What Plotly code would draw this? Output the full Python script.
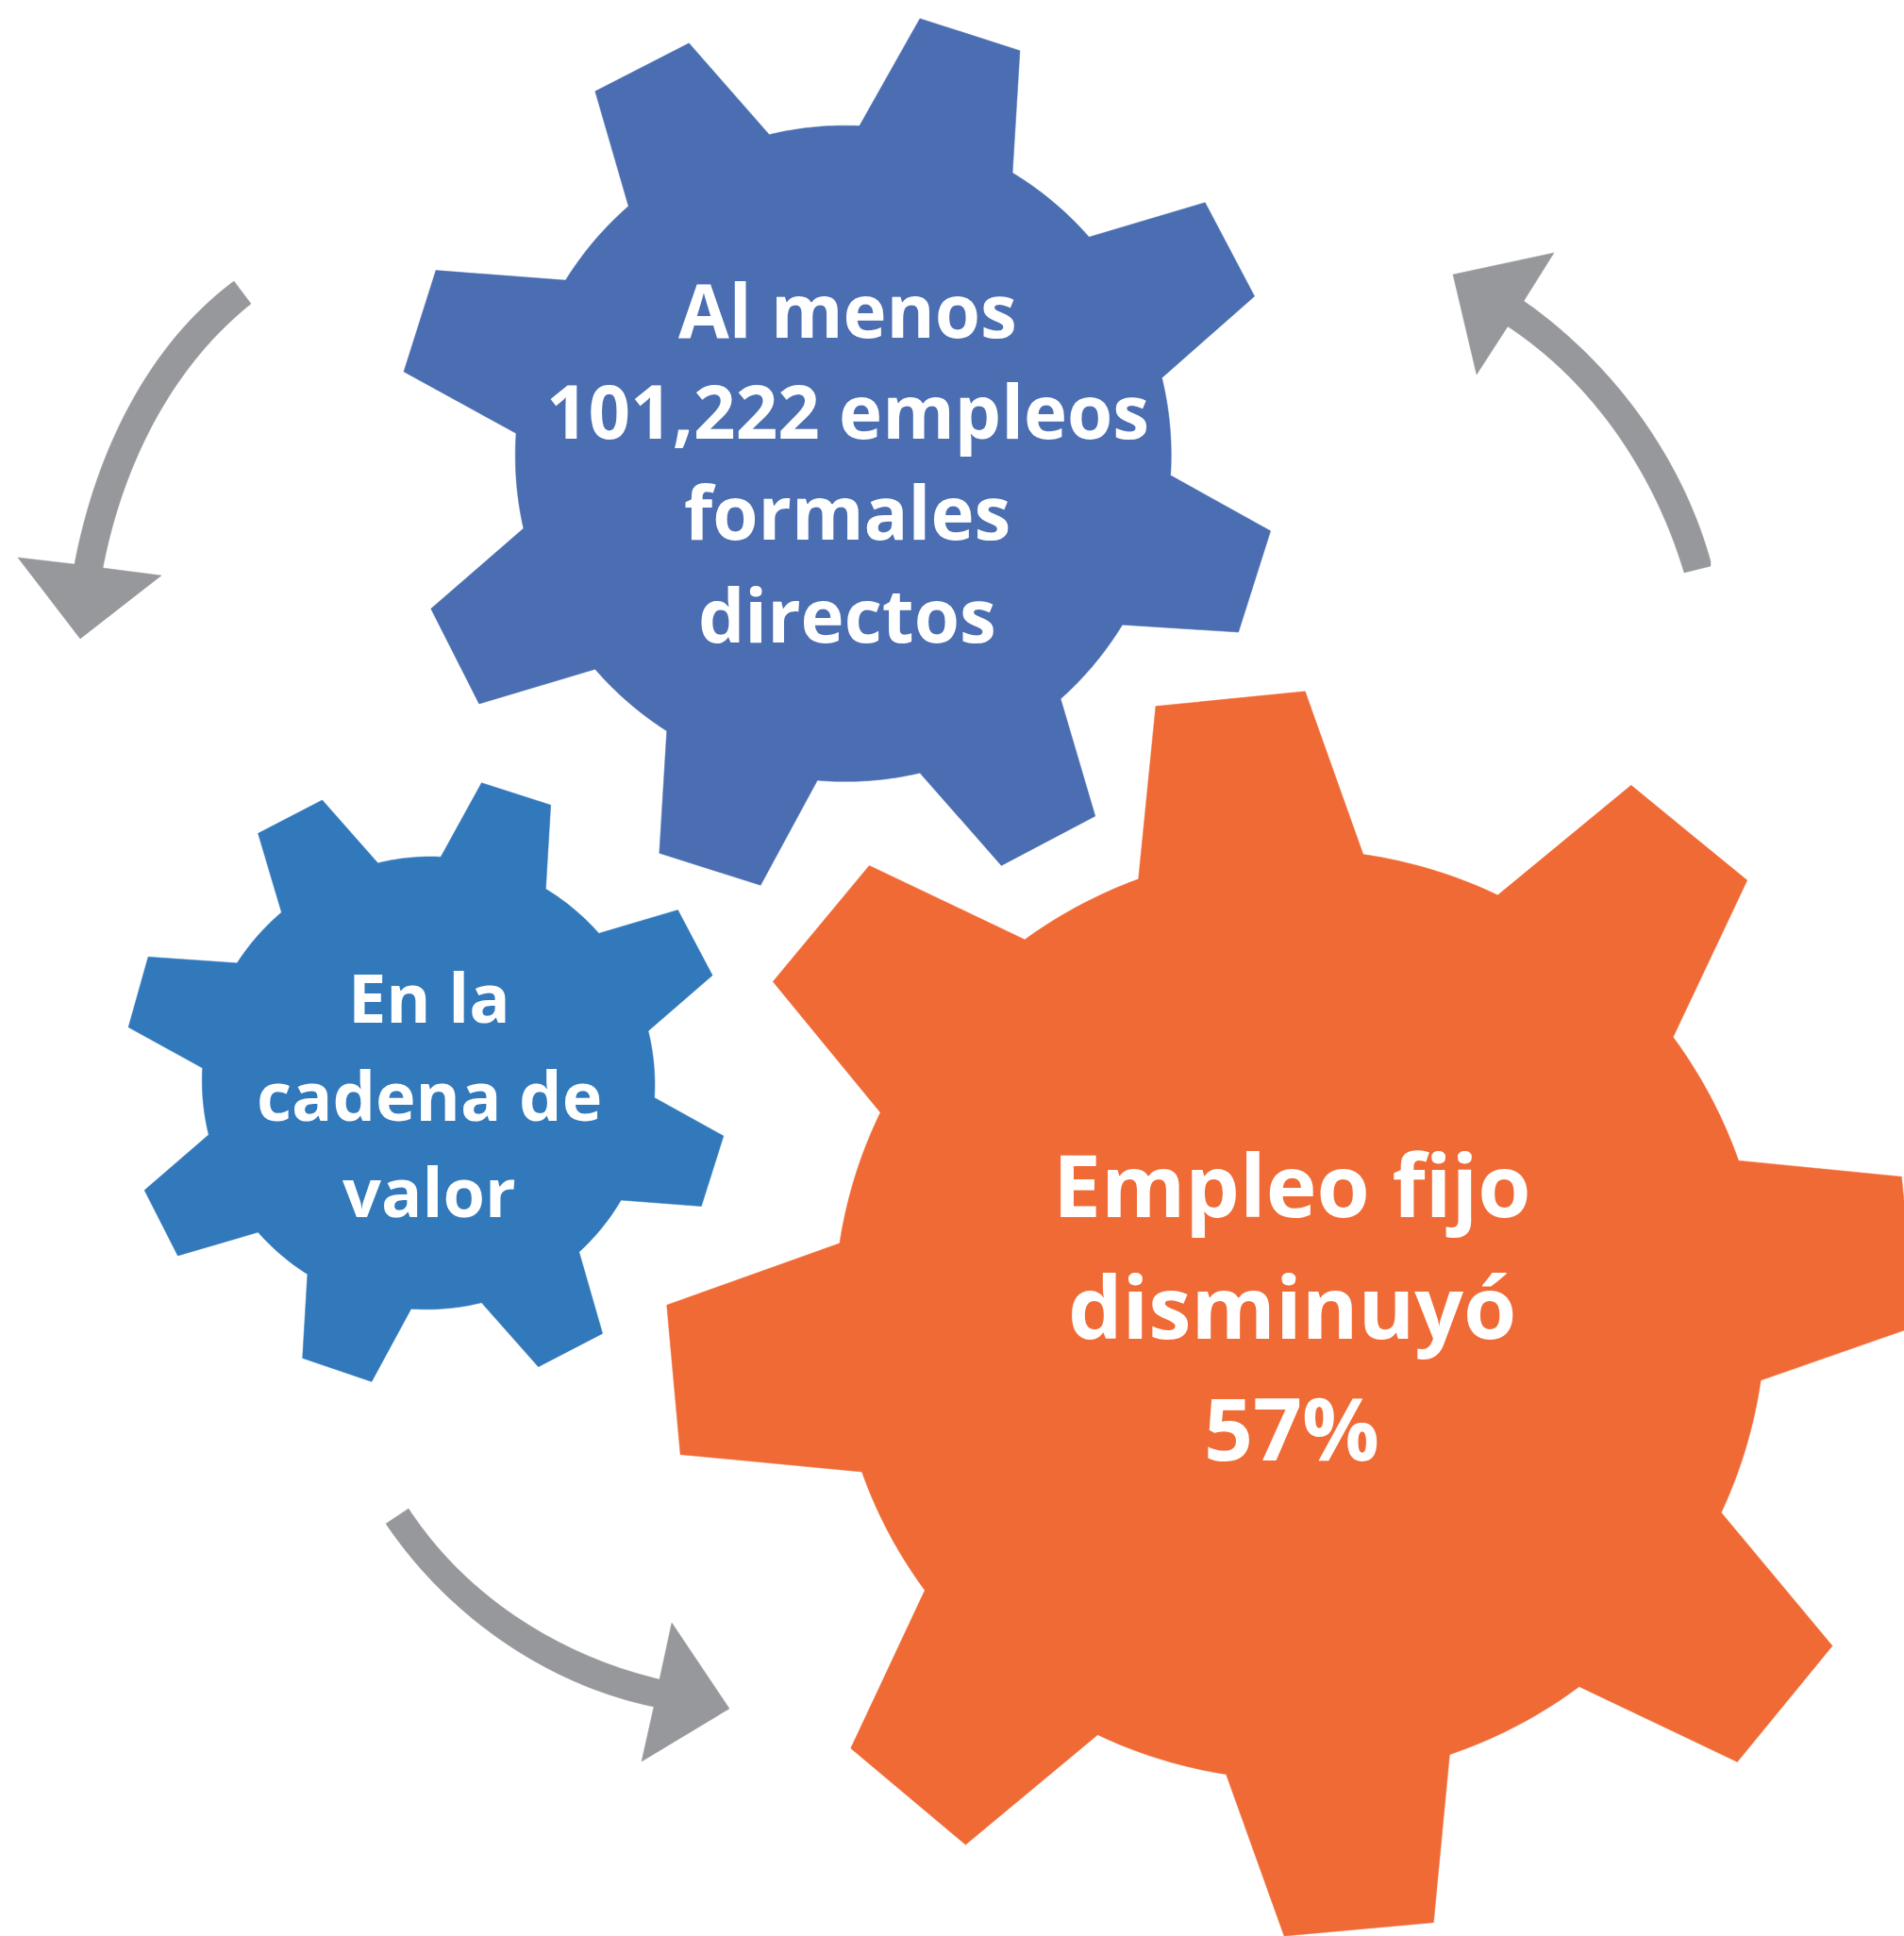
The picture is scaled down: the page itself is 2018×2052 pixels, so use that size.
import math
import numpy as np
import plotly.graph_objects as go

# Gear outlines: each tooth is root, tip, tip, root (units: 1542-wide view)
gear1_x = [696,745,826,820, 882,976,1016,941, 948,1029,1003,909, 859,887,811,745, 662,616,534,540, 482,388,349,424, 418,327,353,458, 509,482,558,623]
gear1_y = [102,15,41,140, 192,164,240,306, 385,430,512,506, 566,661,701,626, 632,717,691,592, 542,570,493,428, 351,301,219,227, 167,74,35,109]
gear1_center = (683, 367)

gear2_x = [357,390,446,442, 485,549,577,525, 530,586,568,503, 469,488,436,390, 333,301,245,249, 209,144,117,169, 164,104,120,192, 228,209,261,306]
gear2_y = [694,634,652,720, 756,737,790,835, 889,920,977,972, 1014,1080,1107,1055, 1060,1119,1100,1032, 998,1017,964,919, 865,832,775,780, 739,675,648,699]
gear2_center = (347, 877)

gear3_x = [922,936,1057,1104, 1213,1321,1415,1355, 1408,1540,1552,1426, 1394,1484,1407,1279, 1174,1161,1040,993, 889,782,689,749, 698,551,540,680, 713,626,704,830]
gear3_y = [712,572,560,692, 725,636,713,840, 940,953,1074,1118, 1225,1333,1427,1366, 1421,1557,1568,1437, 1405,1494,1416,1288, 1192,1178,1057,1007, 901,795,701,761]
gear3_center = (1045, 1065)

# Arrows (full-size pixels): shaft edges traced point by point, plus head corners
arrow1_edge_a = [(248,298),(200,337),(177,370),(160,393),(133,440),(110,490),(90,543),(79,598)]
arrow1_head = [(19,591),(85,677),(171,610)]
arrow1_edge_b = [(109,602),(125,537),(143,490),(168,440),(197,393),(212,375),(240,345),(266,322)]

arrow2_edge_a = [(1785,607),(1770,563),(1750,520),(1727,480),(1697,437),(1667,403),(1633,372),(1598,346)]
arrow2_head = [(1565,397),(1540,291),(1647,268)]
arrow2_edge_b = [(1615,319),(1650,345),(1687,380),(1720,417),(1750,460),(1777,503),(1800,553),(1813,595)]
arrow2_tail = [(1813,600)]

arrow3_edge_a = [(409,1615),(430,1645),(463,1682),(503,1717),(547,1747),(593,1775),(643,1797),(693,1809)]
arrow3_head = [(680,1867),(773,1811),(712,1720)]
arrow3_edge_b = [(699,1780),(657,1768),(617,1752),(573,1730),(530,1702),(490,1667),(457,1632),(433,1599)]

# Text lines: words, centre x, centre y (full-size pixels)
gear1_lines = ["Al menos", "101,222 empleos", "formales", "directos"]
gear1_text_x = [898, 898, 898, 898]
gear1_text_y = [328, 435, 542, 651]
gear2_lines = ["En la", "cadena de", "valor"]
gear2_text_x = [455, 455, 455]
gear2_text_y = [1056, 1160, 1262]
gear3_lines = ["Empleo fijo", "disminuyó", "57%"]
gear3_text_x = [1369, 1369, 1369]
gear3_text_y = [1255, 1384, 1513]

BLUE = "#4A6EB1"
MIDBLUE = "#3279BC"
ORANGE = "#F06A36"
GREY = "#97989B"
SCALE = 2018 / 1542


def gear_outline(xs, ys, center):
    cx, cy = center
    px, py = [], []
    n = len(xs)
    for i in range(0, n, 4):
        px += xs[i:i + 4]
        py += ys[i:i + 4]
        x0, y0 = xs[i + 3], ys[i + 3]
        j = (i + 4) % n
        x1, y1 = xs[j], ys[j]
        a0 = math.atan2(y0 - cy, x0 - cx)
        a1 = math.atan2(y1 - cy, x1 - cx)
        while a1 < a0:
            a1 += 2 * math.pi
        r0, r1 = math.hypot(x0 - cx, y0 - cy), math.hypot(x1 - cx, y1 - cy)
        for k in range(1, 24):
            t = k / 24
            a = a0 + (a1 - a0) * t
            r = r0 + (r1 - r0) * t
            px.append(cx + r * math.cos(a))
            py.append(cy + r * math.sin(a))
    px.append(px[0])
    py.append(py[0])
    return [v * SCALE for v in px], [v * SCALE for v in py]


def smooth(edge):
    """Smooth curve through the hand-read edge points, pinned to its two ends."""
    e = np.array(edge, dtype=float)
    s = np.r_[0, np.cumsum(np.hypot(*np.diff(e, axis=0).T))]
    s /= s[-1]
    w = np.ones(len(s))
    w[0] = w[-1] = 30
    t = np.linspace(0, 1, 60)
    return list(zip(np.polyval(np.polyfit(s, e[:, 0], 3, w=w), t),
                    np.polyval(np.polyfit(s, e[:, 1], 3, w=w), t)))


def arrow_outline(a, head, b, tail=()):
    pts = smooth(a) + list(head) + smooth(b) + list(tail)
    pts.append(pts[0])
    return [p[0] for p in pts], [p[1] for p in pts]


fig = go.Figure()
for xs, ys, c, color, name in [
    (gear1_x, gear1_y, gear1_center, BLUE, "Empleos directos"),
    (gear2_x, gear2_y, gear2_center, MIDBLUE, "Cadena de valor"),
    (gear3_x, gear3_y, gear3_center, ORANGE, "Empleo fijo"),
]:
    px, py = gear_outline(xs, ys, c)
    fig.add_trace(go.Scatter(x=px, y=py, mode="lines", fill="toself", fillcolor=color,
                             line=dict(color=color, width=0.5, simplify=False), name=name, hoverinfo="skip"))

for a, h, b, tail in [
    (arrow1_edge_a, arrow1_head, arrow1_edge_b, ()),
    (arrow2_edge_a, arrow2_head, arrow2_edge_b, arrow2_tail),
    (arrow3_edge_a, arrow3_head, arrow3_edge_b, ()),
]:
    px, py = arrow_outline(a, h, b, tail)
    fig.add_trace(go.Scatter(x=px, y=py, mode="lines", fill="toself", fillcolor=GREY,
                             line=dict(color=GREY, width=0.5, simplify=False), hoverinfo="skip"))

for lines, tx, ty, size in [
    (gear1_lines, gear1_text_x, gear1_text_y, 78),
    (gear2_lines, gear2_text_x, gear2_text_y, 72),
    (gear3_lines, gear3_text_x, gear3_text_y, 91),
]:
    for s, x, y in zip(lines, tx, ty):
        fig.add_annotation(x=x, y=y, text=s, showarrow=False, xanchor="center", yanchor="middle",
                           font=dict(family="Open Sans", size=size, color="white", weight=700))

fig.update_layout(width=2018, height=2052, margin=dict(l=0, r=0, t=0, b=0), showlegend=False,
                  paper_bgcolor="white", plot_bgcolor="white",
                  xaxis=dict(range=[0, 2018], visible=False, fixedrange=True),
                  yaxis=dict(range=[2052, 0], visible=False, fixedrange=True))

fig.write_html("out.html", config=dict(displayModeBar=False),
               post_script="document.body.style.margin='0';document.body.style.overflow='hidden';")
